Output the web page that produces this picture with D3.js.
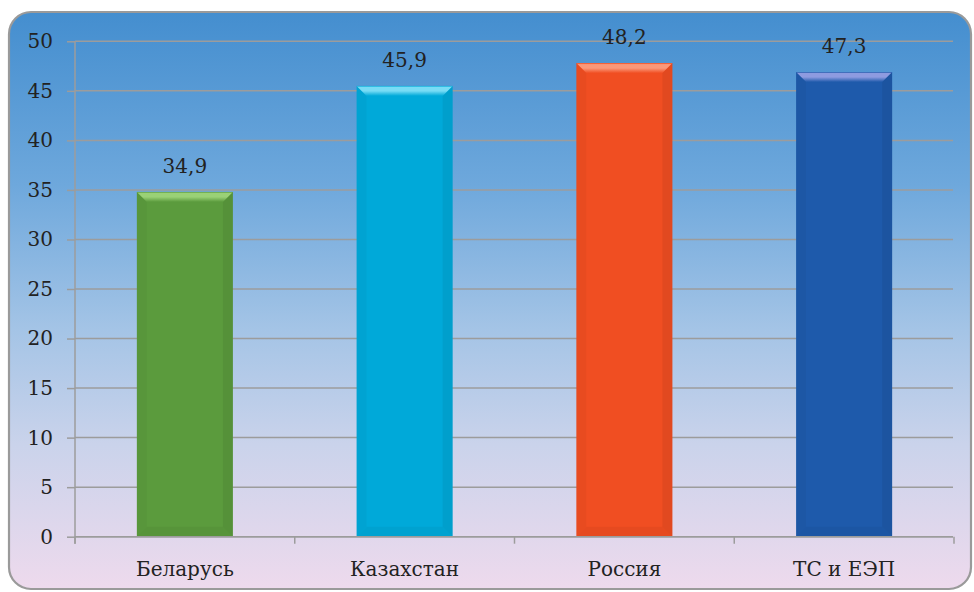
<!DOCTYPE html>
<html><head><meta charset="utf-8">
<script src="https://cdn.jsdelivr.net/npm/d3@7"></script>
<style>
html,body{margin:0;padding:0;background:#fff;}
svg{display:block;font-family:"DejaVu Serif",serif;}
</style></head>
<body>
<svg id="chart" width="974" height="592"></svg>
<script>
const categories = ["Беларусь", "Казахстан", "Россия", "ТС и ЕЭП"];
const values = [34.8, 45.5, 47.8, 46.9];
const valueLabels = ["34,9", "45,9", "48,2", "47,3"];
const yTicks = [0, 5, 10, 15, 20, 25, 30, 35, 40, 45, 50];
const barColors = ["#5b9b3d", "#00a9d9", "#f04e22", "#1e5aab"];
const barLights = ["#9ad176", "#78dcf5", "#fb9879", "#8e9be0"];

(function(){
const svg = d3.select("#chart");
const defs = svg.append("defs");
const FS = 20;

const bg = defs.append("linearGradient").attr("id","bg").attr("x1",0).attr("y1",0).attr("x2",0).attr("y2",1);
[[0,"#448ecf"],[0.3,"#6ea8dc"],[0.55,"#a4c4e6"],[0.75,"#cad3eb"],[1,"#eedaed"]].forEach(s=>
  bg.append("stop").attr("offset",s[0]).attr("stop-color",s[1]));

svg.append("rect").attr("x",9).attr("y",12).attr("width",962).attr("height",577)
  .attr("rx",22).attr("ry",22).attr("fill","url(#bg)").attr("stroke","#9a9a9a").attr("stroke-width",2.2);

const pLeft = 75, pRight = 954, pTop = 41.3, pBottom = 536.7;
const x = d3.scaleBand().domain(categories).range([pLeft, pRight]).paddingInner(0.563).paddingOuter(0.2815);
const y = d3.scaleLinear().domain([0, 50]).range([pBottom, pTop]);

svg.append("g").selectAll("line").data(yTicks).join("line")
  .attr("x1", pLeft).attr("x2", pRight - 1).attr("y1", d=>y(d)).attr("y2", d=>y(d))
  .attr("stroke","#9c9c9c").attr("stroke-width",1.5);

const yAxis = svg.append("g").attr("transform",`translate(${pLeft},0)`)
  .call(d3.axisLeft(y).tickValues(yTicks).tickSize(8).tickPadding(14).tickFormat(d=>d));
yAxis.select(".domain").attr("stroke","#9c9c9c").attr("stroke-width",1.5).attr("d",`M0,${pTop}V${pBottom+7}`);
yAxis.selectAll(".tick line").attr("stroke","#9c9c9c").attr("stroke-width",1.5);
yAxis.selectAll(".tick text").attr("font-size",FS).attr("fill","#222").attr("font-family","DejaVu Serif");

const step = x.step();
const seps = d3.range(categories.length + 1).map(i => pLeft + i*step);
svg.append("g").selectAll("line").data(seps).join("line")
  .attr("x1",d=>d).attr("x2",d=>d).attr("y1",pBottom).attr("y2",pBottom+7)
  .attr("stroke","#9c9c9c").attr("stroke-width",1.5);
svg.append("g").selectAll("text").data(categories).join("text")
  .attr("x", d=>x(d)+x.bandwidth()/2).attr("y", 576).attr("text-anchor","middle")
  .attr("font-size",FS).attr("fill","#222").text(d=>d);

const bv = 10;
categories.forEach((c,i)=>{
  const x0 = x(c), w = x.bandwidth(), y0 = y(values[i]), y1 = y(0);
  const g = svg.append("g");
  const lg = defs.append("linearGradient").attr("id","topg"+i).attr("x1",0).attr("y1",0).attr("x2",0).attr("y2",1);
  lg.append("stop").attr("offset",0).attr("stop-color",barColors[i]);
  lg.append("stop").attr("offset",0.15).attr("stop-color",barLights[i]);
  lg.append("stop").attr("offset",0.5).attr("stop-color",barLights[i]);
  lg.append("stop").attr("offset",1).attr("stop-color",barColors[i]);
  g.append("rect").attr("x",x0).attr("y",y0).attr("width",w).attr("height",y1-y0).attr("fill",barColors[i]);
  g.append("path").attr("d",`M${x0},${y0}L${x0+bv},${y0+bv}L${x0+bv},${y1-bv}L${x0},${y1}Z`)
    .attr("fill","#000").attr("opacity",0.03);
  g.append("path").attr("d",`M${x0+w},${y0}L${x0+w-bv},${y0+bv}L${x0+w-bv},${y1-bv}L${x0+w},${y1}Z`)
    .attr("fill","#000").attr("opacity",0.06);
  g.append("path").attr("d",`M${x0},${y1}L${x0+bv},${y1-bv}L${x0+w-bv},${y1-bv}L${x0+w},${y1}Z`)
    .attr("fill","#000").attr("opacity",0.04);
  g.append("path").attr("d",`M${x0},${y0}L${x0+w},${y0}L${x0+w-bv},${y0+bv}L${x0+bv},${y0+bv}Z`)
    .attr("fill",`url(#topg${i})`);
  svg.append("text").attr("x",x0+w/2).attr("y",y0-19).attr("text-anchor","middle")
    .attr("font-size",FS).attr("fill","#222").text(valueLabels[i]);
});
svg.append("line").attr("x1",pLeft).attr("x2",pRight-1).attr("y1",pBottom).attr("y2",pBottom)
  .attr("stroke","#9c9c9c").attr("stroke-width",1.5);
})();
</script>
</body></html>
